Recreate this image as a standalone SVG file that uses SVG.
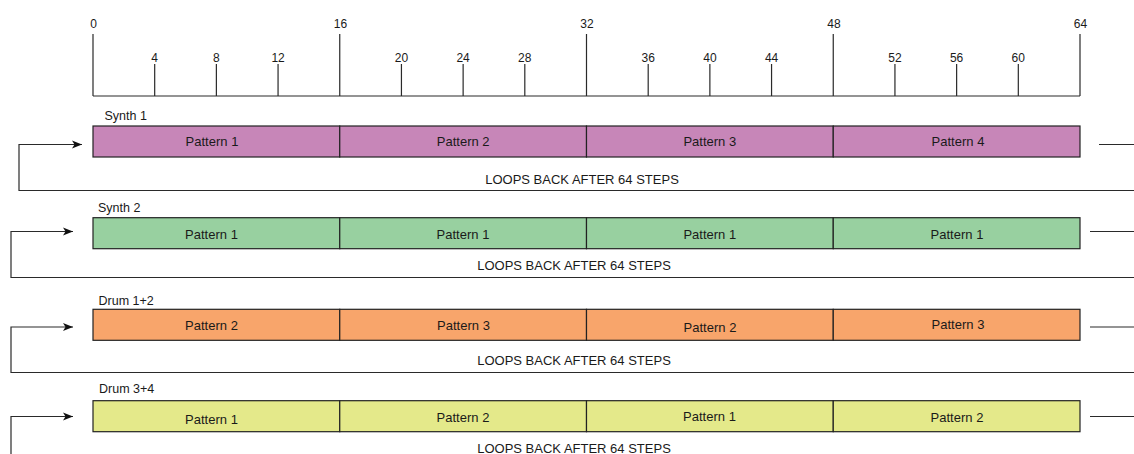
<svg xmlns="http://www.w3.org/2000/svg" width="1134" height="454" viewBox="0 0 1134 454">
<style>
text{font-family:"Liberation Sans",Arial,sans-serif;fill:#1a1a1a;}
.num{font-size:12px;text-anchor:middle;}
.lbl{font-size:12.5px;}
.pt{font-size:13px;text-anchor:middle;}
.loop{font-size:13px;text-anchor:middle;}
.tick{stroke:#2a2a2a;stroke-width:1.2;fill:none;}
.seg{stroke:#222;stroke-width:1.2;}
.s1{fill:#C786B8;}
.s2{fill:#98D0A0;}
.d12{fill:#F8A56B;}
.d34{fill:#E4E98A;}
.conn{stroke:#2a2a2a;stroke-width:1.2;fill:none;}
</style>
<defs>
<marker id="arr" markerUnits="userSpaceOnUse" markerWidth="12" markerHeight="10" viewBox="0 0 12 10" refX="11" refY="5" orient="auto">
<path d="M1,1 L11,5 L1,9 L3.5,5 Z" fill="#111"/>
</marker>
</defs>

<g id="ruler">
<path class="tick" d="M93,96 H1080"/>
<path class="tick" d="M93,34 V96 M339.75,34 V96 M586.5,34 V96 M833.25,34 V96 M1080,34 V96"/>
<path class="tick" d="M154.69,64 V96 M216.38,64 V96 M278.06,64 V96 M401.44,64 V96 M463.13,64 V96 M524.81,64 V96 M648.19,64 V96 M709.88,64 V96 M771.56,64 V96 M894.94,64 V96 M956.63,64 V96 M1018.31,64 V96"/>
<text class="num" x="93.5" y="27.5">0</text>
<text class="num" x="340.5" y="27.5">16</text>
<text class="num" x="587" y="27.5">32</text>
<text class="num" x="834" y="27.5">48</text>
<text class="num" x="1080.5" y="27.5">64</text>
<text class="num" x="154.7" y="61.5">4</text>
<text class="num" x="216.4" y="61.5">8</text>
<text class="num" x="278.1" y="61.5">12</text>
<text class="num" x="401.4" y="61.5">20</text>
<text class="num" x="463.1" y="61.5">24</text>
<text class="num" x="524.8" y="61.5">28</text>
<text class="num" x="648.2" y="61.5">36</text>
<text class="num" x="709.9" y="61.5">40</text>
<text class="num" x="771.6" y="61.5">44</text>
<text class="num" x="894.9" y="61.5">52</text>
<text class="num" x="956.6" y="61.5">56</text>
<text class="num" x="1018.3" y="61.5">60</text>
</g>

<g id="connectors">
<path class="conn" d="M1134,190.5 H19 V144.5 H82" marker-end="url(#arr)"/>
<path class="conn" d="M1099,144.5 H1134"/>
<path class="conn" d="M1134,277.5 H11 V231.5 H73" marker-end="url(#arr)"/>
<path class="conn" d="M1090,231.5 H1134"/>
<path class="conn" d="M1134,372.5 H11 V327 H73" marker-end="url(#arr)"/>
<path class="conn" d="M1090,327 H1134"/>
<path class="conn" d="M11,454 V416.5 H73" marker-end="url(#arr)"/>
<path class="conn" d="M1090,416.5 H1134"/>
</g>

<g id="synth1">
<text class="lbl" x="104.5" y="119.5">Synth 1</text>
<g id="synth1-p1"><rect class="seg s1" x="93" y="126" width="246.75" height="31"/><text class="pt" x="212" y="146">Pattern 1</text></g>
<g id="synth1-p2"><rect class="seg s1" x="339.75" y="126" width="246.75" height="31"/><text class="pt" x="463.2" y="146">Pattern 2</text></g>
<g id="synth1-p3"><rect class="seg s1" x="586.5" y="126" width="246.75" height="31"/><text class="pt" x="709.8" y="146">Pattern 3</text></g>
<g id="synth1-p4"><rect class="seg s1" x="833.25" y="126" width="246.75" height="31"/><text class="pt" x="958" y="146">Pattern 4</text></g>
<text class="loop" x="582" y="183.5">LOOPS BACK AFTER 64 STEPS</text>
</g>

<g id="synth2">
<text class="lbl" x="98" y="212">Synth 2</text>
<g id="synth2-p1"><rect class="seg s2" x="93" y="217.7" width="246.75" height="31"/><text class="pt" x="211.5" y="238.5">Pattern 1</text></g>
<g id="synth2-p2"><rect class="seg s2" x="339.75" y="217.7" width="246.75" height="31"/><text class="pt" x="463" y="238.5">Pattern 1</text></g>
<g id="synth2-p3"><rect class="seg s2" x="586.5" y="217.7" width="246.75" height="31"/><text class="pt" x="709.8" y="238.5">Pattern 1</text></g>
<g id="synth2-p4"><rect class="seg s2" x="833.25" y="217.7" width="246.75" height="31"/><text class="pt" x="957" y="238.5">Pattern 1</text></g>
<text class="loop" x="574" y="270">LOOPS BACK AFTER 64 STEPS</text>
</g>

<g id="drum12">
<text class="lbl" x="98.5" y="304.5">Drum 1+2</text>
<g id="drum12-p1"><rect class="seg d12" x="93" y="309.3" width="246.75" height="31"/><text class="pt" x="211.5" y="329.5">Pattern 2</text></g>
<g id="drum12-p2"><rect class="seg d12" x="339.75" y="309.3" width="246.75" height="31"/><text class="pt" x="463.5" y="329.5">Pattern 3</text></g>
<g id="drum12-p3"><rect class="seg d12" x="586.5" y="309.3" width="246.75" height="31"/><text class="pt" x="710" y="331.5">Pattern 2</text></g>
<g id="drum12-p4"><rect class="seg d12" x="833.25" y="309.3" width="246.75" height="31"/><text class="pt" x="958" y="328.5">Pattern 3</text></g>
<text class="loop" x="574" y="365">LOOPS BACK AFTER 64 STEPS</text>
</g>

<g id="drum34">
<text class="lbl" x="99" y="393">Drum 3+4</text>
<g id="drum34-p1"><rect class="seg d34" x="93" y="400.7" width="246.75" height="31"/><text class="pt" x="211.5" y="424">Pattern 1</text></g>
<g id="drum34-p2"><rect class="seg d34" x="339.75" y="400.7" width="246.75" height="31"/><text class="pt" x="463" y="421.5">Pattern 2</text></g>
<g id="drum34-p3"><rect class="seg d34" x="586.5" y="400.7" width="246.75" height="31"/><text class="pt" x="709.5" y="420.5">Pattern 1</text></g>
<g id="drum34-p4"><rect class="seg d34" x="833.25" y="400.7" width="246.75" height="31"/><text class="pt" x="957" y="421.5">Pattern 2</text></g>
<text class="loop" x="574" y="453">LOOPS BACK AFTER 64 STEPS</text>
</g>
</svg>
